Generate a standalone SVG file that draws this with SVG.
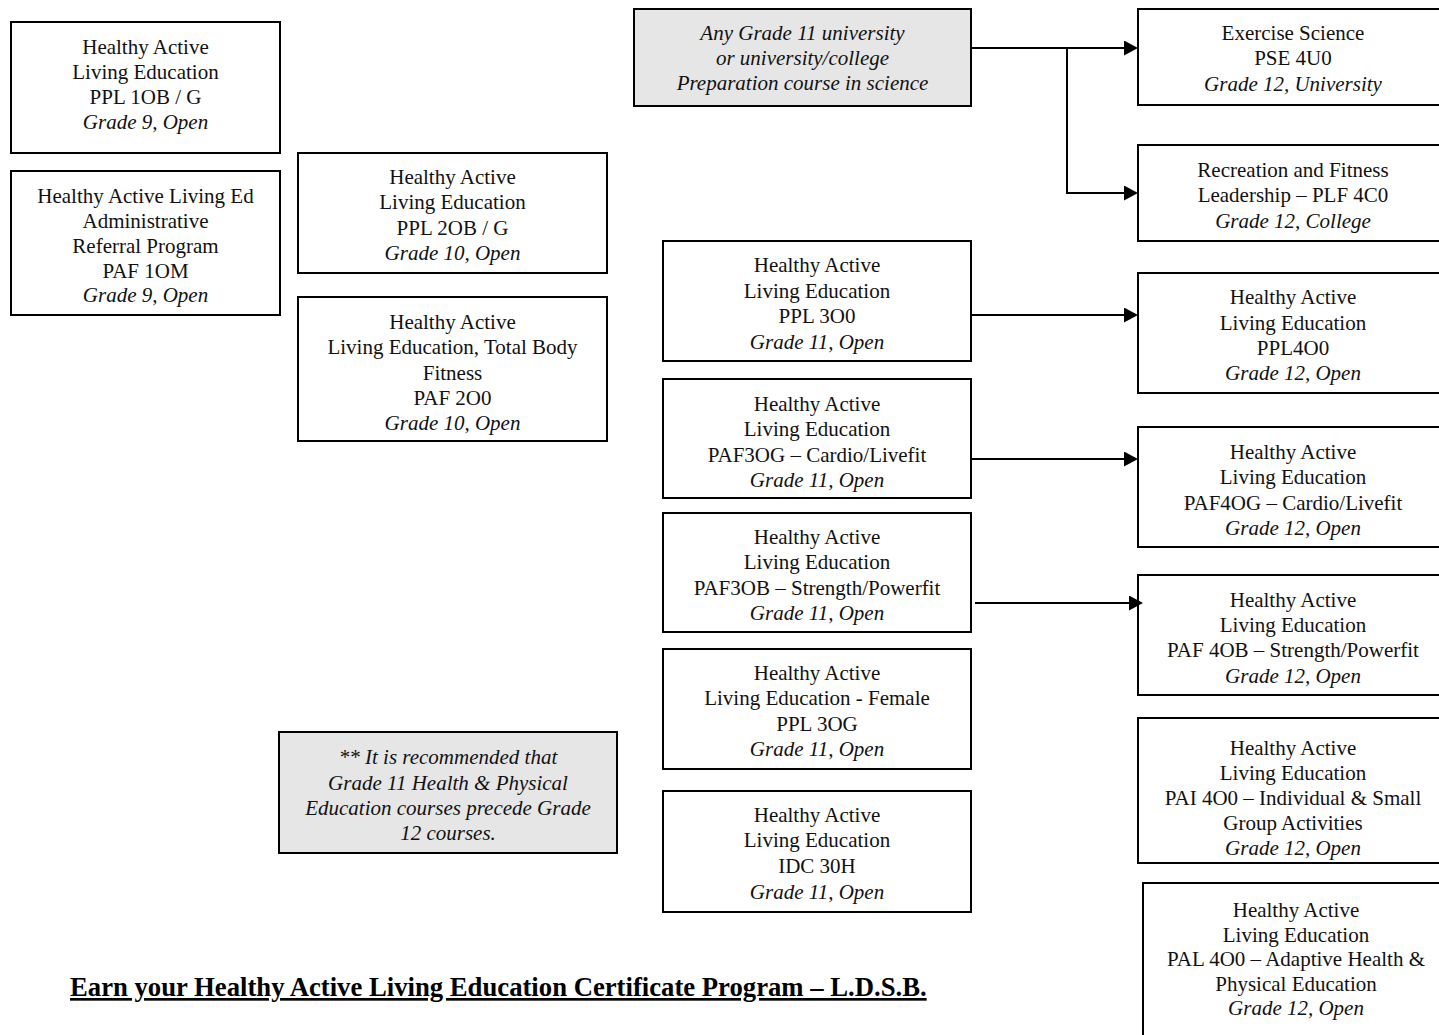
<svg xmlns="http://www.w3.org/2000/svg" width="1439" height="1035" viewBox="0 0 1439 1035">
  <defs>
    <style>
      .box { fill: #ffffff; stroke: #000000; stroke-width: 2; }
      .shade { fill: #e6e6e6; stroke: #000000; stroke-width: 2; }
      text { font-family: "Liberation Serif", "Times New Roman", serif; font-size: 21px; fill: #111111; text-anchor: middle; }
      .it { font-style: italic; }
      .title { font-size: 26.7px; font-weight: bold; text-anchor: start; fill: #000000; text-decoration: underline; text-decoration-thickness: 3px; }
      .wire { fill: none; stroke: #000000; stroke-width: 2; }
    </style>
    <marker id="arrow" markerUnits="userSpaceOnUse" markerWidth="14" markerHeight="15" refX="2" refY="7.5" orient="auto">
      <path d="M0,0 L14,7.5 L0,15 Z" fill="#000000"/>
    </marker>
  </defs>

  <rect width="1439" height="1035" fill="#ffffff"/>

  <!-- Grade 9 -->
  <g id="ppl1ob">
    <rect class="box" x="11" y="22" width="269" height="131"/>
    <text x="145.5" y="54">Healthy Active</text>
    <text x="145.5" y="79">Living Education</text>
    <text x="145.5" y="104">PPL 1OB / G</text>
    <text class="it" x="145.5" y="129">Grade 9, Open</text>
  </g>
  <g id="paf1om">
    <rect class="box" x="11" y="171" width="269" height="144"/>
    <text x="145.5" y="203">Healthy Active Living Ed</text>
    <text x="145.5" y="227.5">Administrative</text>
    <text x="145.5" y="252.5">Referral Program</text>
    <text x="145.5" y="277.5">PAF 1OM</text>
    <text class="it" x="145.5" y="302">Grade 9, Open</text>
  </g>

  <!-- Grade 10 -->
  <g id="ppl2ob">
    <rect class="box" x="298" y="153" width="309" height="120"/>
    <text x="452.5" y="184">Healthy Active</text>
    <text x="452.5" y="209.3">Living Education</text>
    <text x="452.5" y="234.6">PPL 2OB / G</text>
    <text class="it" x="452.5" y="260">Grade 10, Open</text>
  </g>
  <g id="paf2o0">
    <rect class="box" x="298" y="297" width="309" height="144"/>
    <text x="452.5" y="329">Healthy Active</text>
    <text x="452.5" y="354">Living Education, Total Body</text>
    <text x="452.5" y="379.5">Fitness</text>
    <text x="452.5" y="405">PAF 2O0</text>
    <text class="it" x="452.5" y="430">Grade 10, Open</text>
  </g>

  <!-- Grade 11 -->
  <g id="science-prereq">
    <rect class="shade" x="634" y="9" width="337" height="97"/>
    <text class="it" x="802.5" y="40">Any Grade 11 university</text>
    <text class="it" x="802.5" y="65">or university/college</text>
    <text class="it" x="802.5" y="90">Preparation course in science</text>
  </g>
  <g id="ppl3o0">
    <rect class="box" x="663" y="241" width="308" height="120"/>
    <text x="817" y="272">Healthy Active</text>
    <text x="817" y="297.5">Living Education</text>
    <text x="817" y="323">PPL 3O0</text>
    <text class="it" x="817" y="348.5">Grade 11, Open</text>
  </g>
  <g id="paf3og">
    <rect class="box" x="663" y="379" width="308" height="119"/>
    <text x="817" y="410.5">Healthy Active</text>
    <text x="817" y="436">Living Education</text>
    <text x="817" y="461.5">PAF3OG – Cardio/Livefit</text>
    <text class="it" x="817" y="487">Grade 11, Open</text>
  </g>
  <g id="paf3ob">
    <rect class="box" x="663" y="513" width="308" height="119"/>
    <text x="817" y="544">Healthy Active</text>
    <text x="817" y="569">Living Education</text>
    <text x="817" y="594.5">PAF3OB – Strength/Powerfit</text>
    <text class="it" x="817" y="620">Grade 11, Open</text>
  </g>
  <g id="ppl3og">
    <rect class="box" x="663" y="649" width="308" height="120"/>
    <text x="817" y="680">Healthy Active</text>
    <text x="817" y="705.3">Living Education - Female</text>
    <text x="817" y="730.6">PPL 3OG</text>
    <text class="it" x="817" y="756">Grade 11, Open</text>
  </g>
  <g id="idc30h">
    <rect class="box" x="663" y="791" width="308" height="121"/>
    <text x="817" y="822">Healthy Active</text>
    <text x="817" y="847">Living Education</text>
    <text x="817" y="873">IDC 30H</text>
    <text class="it" x="817" y="898.5">Grade 11, Open</text>
  </g>
  <g id="note">
    <rect class="shade" x="279" y="732" width="338" height="121"/>
    <text class="it" x="448" y="764">** It is recommended that</text>
    <text class="it" x="448" y="789.5">Grade 11 Health &amp; Physical</text>
    <text class="it" x="448" y="815">Education courses precede Grade</text>
    <text class="it" x="448" y="840">12 courses.</text>
  </g>

  <!-- Grade 12 -->
  <g id="pse4u0">
    <rect class="box" x="1138" y="9" width="310" height="96"/>
    <text x="1293" y="40">Exercise Science</text>
    <text x="1293" y="65">PSE 4U0</text>
    <text class="it" x="1293" y="91">Grade 12, University</text>
  </g>
  <g id="plf4c0">
    <rect class="box" x="1138" y="145" width="310" height="96"/>
    <text x="1293" y="177">Recreation and Fitness</text>
    <text x="1293" y="202">Leadership – PLF 4C0</text>
    <text class="it" x="1293" y="228">Grade 12, College</text>
  </g>
  <g id="ppl4o0">
    <rect class="box" x="1138" y="273" width="310" height="120"/>
    <text x="1293" y="304">Healthy Active</text>
    <text x="1293" y="329.5">Living Education</text>
    <text x="1293" y="354.5">PPL4O0</text>
    <text class="it" x="1293" y="380">Grade 12, Open</text>
  </g>
  <g id="paf4og">
    <rect class="box" x="1138" y="427" width="310" height="120"/>
    <text x="1293" y="458.5">Healthy Active</text>
    <text x="1293" y="484">Living Education</text>
    <text x="1293" y="509.5">PAF4OG – Cardio/Livefit</text>
    <text class="it" x="1293" y="534.5">Grade 12, Open</text>
  </g>
  <g id="paf4ob">
    <rect class="box" x="1138" y="575" width="310" height="120"/>
    <text x="1293" y="607">Healthy Active</text>
    <text x="1293" y="632">Living Education</text>
    <text x="1293" y="657">PAF 4OB – Strength/Powerfit</text>
    <text class="it" x="1293" y="683">Grade 12, Open</text>
  </g>
  <g id="pai4o0">
    <rect class="box" x="1138" y="718" width="310" height="145"/>
    <text x="1293" y="755">Healthy Active</text>
    <text x="1293" y="780">Living Education</text>
    <text x="1293" y="805">PAI 4O0 – Individual &amp; Small</text>
    <text x="1293" y="830">Group Activities</text>
    <text class="it" x="1293" y="855">Grade 12, Open</text>
  </g>
  <g id="pal4o0">
    <rect class="box" x="1143" y="883" width="306" height="160"/>
    <text x="1296" y="917">Healthy Active</text>
    <text x="1296" y="941.5">Living Education</text>
    <text x="1296" y="966">PAL 4O0 – Adaptive Health &amp;</text>
    <text x="1296" y="990.5">Physical Education</text>
    <text class="it" x="1296" y="1015">Grade 12, Open</text>
  </g>

  <!-- Pathway connectors -->
  <g id="connectors">
    <path class="wire" d="M971,48 H1126" marker-end="url(#arrow)"/>
    <path class="wire" d="M1067,48 V193 H1126" marker-end="url(#arrow)"/>
    <path class="wire" d="M971,315 H1126" marker-end="url(#arrow)"/>
    <path class="wire" d="M971,459 H1126" marker-end="url(#arrow)"/>
    <path class="wire" d="M975,603 H1131" marker-end="url(#arrow)"/>
  </g>

  <text class="title" x="70" y="996">Earn your Healthy Active Living Education Certificate Program – L.D.S.B.</text>
</svg>
